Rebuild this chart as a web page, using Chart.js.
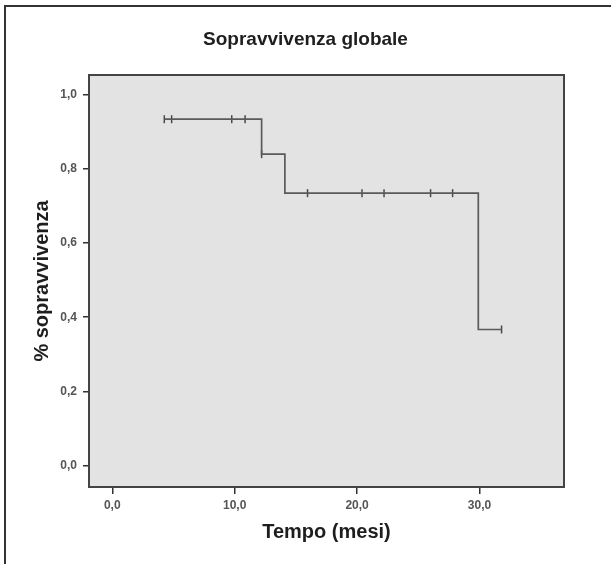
<!DOCTYPE html>
<html><head><meta charset="utf-8">
<script src="https://cdn.jsdelivr.net/npm/chart.js@4/dist/chart.umd.min.js"></script>
<style>
html,body{margin:0;padding:0;background:#fff;}
#wrap{position:relative;width:611px;height:564px;overflow:hidden;}
#frame{position:absolute;left:4px;top:5px;width:607px;height:559px;border-left:2px solid #333;border-top:2px solid #333;box-sizing:border-box;}
canvas{position:absolute;left:0;top:0;}
</style></head><body>
<div id="wrap"><div id="frame"></div><canvas id="c" width="611" height="564"></canvas></div>
<script>
// Kaplan-Meier steps (time in months, survival proportion)
const stepTimes = [4.25, 12.2, 14.1, 29.9, 31.8];
const stepSurvival = [0.933, 0.839, 0.734, 0.367, 0.367];
// Censored observations
const censorTimes = [4.25, 4.85, 9.76, 10.85, 12.2, 15.95, 20.4, 22.2, 26.0, 27.8, 31.8];
const censorSurvival = [0.933, 0.933, 0.933, 0.933, 0.839, 0.734, 0.734, 0.734, 0.734, 0.734, 0.367];
const xTicks = [0, 10, 20, 30];
const yTicks = [0, 0.2, 0.4, 0.6, 0.8, 1.0];
const chartTitle = 'Sopravvivenza globale';
const xTitle = 'Tempo (mesi)';
const yTitle = '% sopravvivenza';

const fmt = v => Number(v).toFixed(1).replace('.', ',');

const framePlugin = {
  id: 'frame',
  beforeDraw(chart) {
    const {ctx, chartArea: a} = chart;
    ctx.save();
    ctx.fillStyle = '#e3e3e3';
    ctx.fillRect(a.left, a.top, a.right - a.left, a.bottom - a.top);
    ctx.restore();
  },
  afterDraw(chart) {
    const {ctx, chartArea: a} = chart;
    ctx.save();
    ctx.strokeStyle = '#444';
    ctx.lineWidth = 2;
    ctx.strokeRect(a.left, a.top, a.right - a.left, a.bottom - a.top);
    // main title, centred on the whole picture
    ctx.fillStyle = '#1e1e1e';
    ctx.font = 'bold 19px "Liberation Sans", Arial, sans-serif';
    ctx.textAlign = 'center';
    ctx.textBaseline = 'middle';
    ctx.fillText(chartTitle, chart.width / 2, 40);
    ctx.restore();
  }
};

const tickFont = {family: '"Liberation Sans", Arial, sans-serif', size: 12, weight: 'bold'};
const titleFont = {family: '"Liberation Sans", Arial, sans-serif', size: 20, weight: 'bold', lineHeight: 1.2};

new Chart(document.getElementById('c'), {
  type: 'scatter',
  data: {
    datasets: [
      {
        data: stepTimes.map((t, i) => ({x: t, y: stepSurvival[i]})),
        showLine: true,
        stepped: 'before',
        borderColor: '#5a5a5a',
        borderWidth: 1.7,
        pointRadius: 0,
        fill: false
      },
      {
        data: censorTimes.map((t, i) => ({x: t, y: censorSurvival[i]})),
        showLine: false,
        pointStyle: 'line',
        rotation: 90,
        pointRadius: 4,
        borderColor: '#4a4a4a',
        borderWidth: 1.5
      }
    ]
  },
  options: {
    responsive: false,
    devicePixelRatio: 1,
    animation: false,
    layout: {padding: {left: 0, right: 47, top: 75, bottom: 0}},
    plugins: {
      legend: {display: false},
      tooltip: {enabled: false},
      title: {display: false}
    },
    scales: {
      x: {
        type: 'linear',
        min: -1.9,
        max: 36.9,
        afterBuildTicks: s => { s.ticks = xTicks.map(v => ({value: v})); },
        afterFit: s => { s.height = 77; },
        grid: {drawOnChartArea: false, drawTicks: true, tickLength: 7, color: '#333', lineWidth: 1.5},
        border: {display: false},
        ticks: {padding: 4, font: tickFont, color: '#555', maxRotation: 0, autoSkip: false, callback: v => fmt(v)},
        title: {display: true, text: xTitle, color: '#1e1e1e', font: titleFont, padding: {top: 0, bottom: 20}}
      },
      y: {
        type: 'linear',
        min: -0.057,
        max: 1.052,
        afterBuildTicks: s => { s.ticks = yTicks.map(v => ({value: v})); },
        afterFit: s => { s.width = 89; },
        grid: {drawOnChartArea: false, drawTicks: true, tickLength: 6, color: '#333', lineWidth: 1.5},
        border: {display: false},
        ticks: {padding: 6, font: tickFont, color: '#555', autoSkip: false, callback: v => fmt(v)},
        title: {display: true, text: yTitle, color: '#1e1e1e', font: titleFont, padding: {top: 30, bottom: 0}}
      }
    }
  },
  plugins: [framePlugin]
});
</script>
</body></html>
